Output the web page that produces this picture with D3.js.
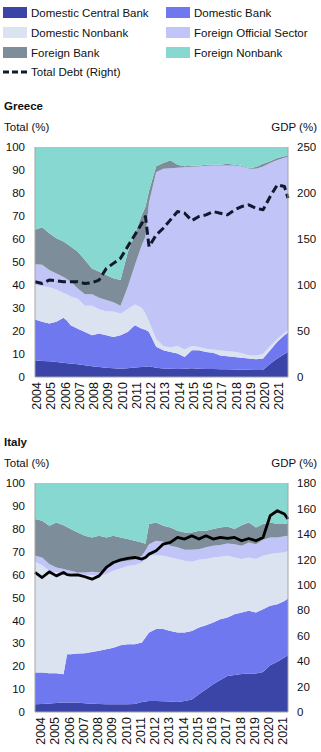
<!DOCTYPE html>
<html>
<head>
<meta charset="utf-8">
<script src="https://cdn.jsdelivr.net/npm/d3@7"></script>
<style>
  body { margin: 0; background: #fff; }
  text { font-family: "Liberation Sans", Arial, sans-serif; fill: #111; }
</style>
</head>
<body>
<svg id="chart" width="321" height="752"></svg>
<script>
// half-year observations (extra points where the series jump)
var dates = [2004, 2004.5, 2005, 2005.5, 2006, 2006.25, 2006.5, 2007, 2007.5, 2008,
    2008.5, 2009, 2009.5, 2010, 2010.5, 2011, 2011.5, 2011.75, 2012, 2012.5,
    2013, 2013.5, 2014, 2014.5, 2015, 2015.5, 2016, 2016.5, 2017, 2017.5,
    2018, 2018.5, 2019, 2019.5, 2020, 2020.5, 2021, 2021.5, 2021.75];
var years = [2004, 2005, 2006, 2007, 2008, 2009, 2010, 2011, 2012, 2013,
    2014, 2015, 2016, 2017, 2018, 2019, 2020, 2021];

var seriesNames = ["Domestic Central Bank", "Domestic Bank", "Domestic Nonbank",
    "Foreign Official Sector", "Foreign Bank", "Foreign Nonbank"];
var seriesColors = ["#3b44a7", "#7078ef", "#dbe3f1", "#c1c4f6", "#7d8e9a", "#87d8d0"];

// Greece, share of total (%)
var greeceCB = [7.3, 7.0, 6.8, 6.5, 6.2, 6.0, 5.9, 5.5, 5.1, 4.7, 4.3, 4.0, 3.8, 3.6, 3.8, 4.1, 4.3, 4.5, 4.7, 4.0,
    3.7, 3.6, 3.5, 3.6, 3.8, 3.6, 3.5, 3.5, 3.4, 3.4, 3.3, 3.2, 3.1, 3.0, 3.0, 5.8, 8.0, 10.0, 11.0];
var greeceDB = [17.7, 17.0, 16.5, 17.5, 19.6, 18.5, 16.6, 15.5, 14.5, 13.5, 14.6, 14.2, 13.6, 14.6, 15.8, 18.4, 16.7, 16.0, 14.9, 9.1,
    7.9, 7.3, 6.7, 5.1, 7.8, 8.0, 7.4, 7.0, 6.0, 5.6, 5.4, 5.2, 4.9, 4.7, 5.0, 5.8, 7.3, 8.2, 8.3];
var greeceDNB = [15.0, 15.5, 15.7, 14.0, 10.7, 11.5, 12.5, 13.0, 11.4, 12.8, 10.6, 10.3, 11.1, 9.3, 9.9, 9.0, 9.0, 7.0, 4.4, 3.4,
    1.9, 1.9, 3.3, 3.3, 1.9, 1.4, 1.4, 1.5, 2.1, 2.2, 2.3, 1.9, 1.5, 1.5, 2.0, 1.9, 1.2, 1.0, 1.2];
var greeceFOS = [9.0, 9.3, 7.5, 7.0, 7.0, 6.5, 6.5, 4.5, 5.0, 5.0, 5.0, 5.0, 4.0, 3.5, 9.5, 17.0, 27.5, 33.5, 52.0, 72.5,
    77.0, 78.0, 77.5, 79.2, 77.9, 78.5, 79.5, 80.0, 80.5, 80.8, 81.0, 81.2, 81.0, 81.3, 81.5, 79.5, 77.8, 76.1, 75.1];
var greeceFB = [15.0, 16.3, 16.0, 15.3, 15.4, 15.3, 15.2, 16.0, 14.9, 11.2, 11.3, 10.8, 10.4, 11.2, 15.0, 13.5, 13.0, 13.0, 5.0, 2.6,
    2.5, 3.4, 1.3, 0.4, 0.5, 0.4, 0.5, 0.3, 0.3, 0.7, 0.3, 0.4, 0.3, 0.8, 1.2, 0.8, 0.9, 0.7, 0.6];
var greeceFNB = [36.0, 34.9, 37.5, 39.7, 41.1, 42.2, 43.3, 45.5, 49.1, 52.8, 54.2, 55.7, 57.1, 57.8, 46.0, 38.0, 29.5, 26.0, 19.0, 8.4,
    7.0, 5.8, 7.7, 8.4, 8.1, 8.1, 7.7, 7.7, 7.7, 7.3, 7.7, 8.1, 9.2, 8.7, 7.3, 6.2, 4.8, 4.0, 3.8];
// Greece total debt, % of GDP (right axis)
var greeceDebt = [103.6, 101.7, 105.4, 104.7, 103.6, 103.6, 103.6, 103.6, 101.7, 102.5, 105.4, 118, 123.5, 129, 141.7, 154.4, 167, 174.4, 141.7, 154.4,
    161.7, 170.8, 179.9, 178, 170, 174.4, 176.2, 179.9, 178, 176.2, 181.7, 185.3, 187.1, 183.5, 181.7, 196.2, 209, 207, 194.4];

// Italy, share of total (%)
var italyCB = [3.4, 3.5, 3.7, 3.9, 4.1, 4.1, 4.1, 4.0, 3.8, 3.6, 3.5, 3.4, 3.4, 3.4, 3.4, 3.5, 4.4, 4.6, 4.8, 4.8,
    4.7, 4.6, 4.4, 4.8, 5.5, 7.7, 9.9, 12.1, 14.0, 15.7, 16.2, 16.6, 16.8, 16.8, 17.5, 20.4, 21.9, 23.8, 24.8];
var italyDB = [13.8, 13.7, 13.2, 13.0, 12.4, 21.1, 21.1, 21.5, 21.9, 22.6, 23.2, 24.0, 24.7, 25.8, 26.2, 26.1, 25.9, 27.9, 29.9, 31.4,
    31.5, 30.8, 30.3, 29.9, 29.9, 29.2, 28.0, 27.0, 26.5, 25.6, 26.5, 26.8, 27.4, 26.6, 27.4, 26.0, 25.2, 24.7, 24.8];
var italyDNB = [48.4, 46.9, 44.8, 44.0, 44.1, 35.0, 34.6, 34.0, 33.8, 33.6, 32.8, 32.8, 33.6, 33.5, 34.2, 34.5, 35.0, 34.0, 33.5, 32.3,
    32.0, 32.1, 32.1, 31.3, 30.2, 29.6, 28.9, 28.4, 27.3, 26.9, 24.8, 23.4, 23.3, 23.4, 23.3, 22.6, 22.3, 21.2, 20.8];
var italyFOS = [2.6, 3.4, 2.9, 2.2, 1.8, 1.8, 1.9, 1.4, 1.4, 1.4, 1.4, 2.2, 3.3, 2.9, 2.2, 2.4, 2.9, 4.0, 5.1, 6.3,
    6.1, 5.1, 5.1, 4.8, 5.2, 4.6, 5.1, 5.1, 5.1, 5.4, 5.8, 5.8, 6.5, 6.5, 7.0, 7.2, 6.8, 7.0, 6.6];
var italyFB = [16.1, 16.0, 16.7, 19.7, 19.2, 18.8, 18.2, 17.5, 16.1, 15.0, 16.1, 13.8, 12.0, 10.6, 9.5, 8.3, 5.8, 3.0, 8.8, 8.0,
    7.0, 8.0, 7.3, 7.6, 7.6, 8.1, 7.3, 7.3, 7.7, 7.4, 6.6, 9.0, 8.8, 7.3, 6.9, 6.6, 5.9, 5.4, 5.5];
var italyFNB = [15.7, 16.5, 18.7, 17.2, 18.4, 19.2, 20.1, 21.6, 23.0, 23.8, 23.0, 23.8, 23.0, 23.8, 24.5, 25.2, 26.0, 26.5, 17.9, 17.2,
    18.7, 19.4, 20.8, 21.6, 21.6, 20.8, 20.8, 20.1, 19.4, 19.0, 20.1, 18.4, 17.2, 19.4, 17.9, 17.2, 17.9, 17.9, 17.5];
// Italy total debt, % of GDP (right axis)
var italyDebt = [109.7, 105.7, 110.2, 107.0, 109.7, 108.0, 107.6, 107.8, 106.3, 104.4, 107.0, 113.6, 117.5, 119.6, 120.7, 121.5, 120.2, 121.5, 124.1, 126.7,
    132.0, 133.3, 137.2, 135.9, 138.5, 135.9, 138.5, 135.9, 137.2, 136.4, 137.2, 134.6, 136.4, 134.6, 137.2, 154.3, 158.2, 155.6, 151.7];

var svg = d3.select("#chart");

// legend
var legend = svg.append("g").attr("class", "legend");
seriesNames.forEach(function (name, i) {
    var col = i % 2, row = Math.floor(i / 2);
    var g = legend.append("g")
        .attr("transform", "translate(" + (3 + col * 163) + "," + (7 + row * 20) + ")");
    g.append("rect").attr("width", 24).attr("height", 11).attr("fill", seriesColors[i]);
    g.append("text").attr("x", 28).attr("y", 10).attr("font-size", 11.5).text(name);
});
var lg = legend.append("g").attr("transform", "translate(3,72)");
lg.append("line").attr("x1", 0).attr("x2", 24)
    .attr("stroke", "#101a2c").attr("stroke-width", 3).attr("stroke-dasharray", "6,3");
lg.append("text").attr("x", 28).attr("y", 4).attr("font-size", 11.5).text("Total Debt (Right)");

var x = d3.scaleLinear().domain([2004, 2021.75]).range([35, 288]);

function drawPanel(p) {
    var y = d3.scaleLinear().domain([0, 100]).range([p.bottom, p.top]);
    var y2 = d3.scaleLinear().domain([0, p.rightMax]).range([p.bottom, p.top]);

    var rows = dates.map(function (t, i) {
        var r = { t: t };
        seriesNames.forEach(function (k, j) { r[k] = p.series[j][i]; });
        return r;
    });
    var stacked = d3.stack().keys(seriesNames)(rows);
    var area = d3.area()
        .x(function (d) { return x(d.data.t); })
        .y0(function (d) { return y(d[0]); })
        .y1(function (d) { return y(Math.min(100, d[1])); });

    var g = svg.append("g");
    g.selectAll("path.layer").data(stacked).enter()
        .append("path")
        .attr("class", "layer")
        .attr("d", area)
        .attr("fill", function (d, i) { return seriesColors[i]; });

    var line = d3.line()
        .x(function (d, i) { return x(dates[i]); })
        .y(function (d) { return y2(d); });
    g.append("path")
        .attr("d", line(p.debt))
        .attr("fill", "none")
        .attr("stroke", p.lineColor)
        .attr("stroke-width", p.lineWidth)
        .attr("stroke-linejoin", "round")
        .attr("stroke-dasharray", p.dash);

    // frame lines
    g.append("path")
        .attr("d", "M35," + p.top + "V" + p.bottom + "H288V" + p.top)
        .attr("fill", "none").attr("stroke", "#a4a4a4").attr("stroke-width", 1);

    var left = g.append("g").attr("transform", "translate(35,0)")
        .call(d3.axisLeft(y).tickValues(d3.range(0, 101, 10)).tickSize(0).tickPadding(10));
    var right = g.append("g").attr("transform", "translate(288,0)")
        .call(d3.axisRight(y2).tickValues(d3.range(0, p.rightMax + 1, p.rightStep)).tickSize(0).tickPadding(9));
    var bottom = g.append("g").attr("transform", "translate(0," + p.bottom + ")")
        .call(d3.axisBottom(x).tickValues(years).tickFormat(d3.format("d")).tickSize(0));
    [left, right, bottom].forEach(function (a) {
        a.select(".domain").remove();
        a.selectAll("text").attr("font-size", 11.5).attr("fill", "#111")
            .style("font-family", "'Liberation Sans', Arial, sans-serif");
    });
    bottom.selectAll("text")
        .attr("font-size", 12.5)
        .attr("transform", "rotate(-90)")
        .attr("text-anchor", "end")
        .attr("x", -5)
        .attr("y", p.labelShift)
        .attr("dy", "0.36em");

    g.append("text").attr("x", 4).attr("y", p.top - 37)
        .attr("font-size", 11.5).attr("font-weight", "bold").text(p.title);
    g.append("text").attr("x", 4).attr("y", p.top - 16)
        .attr("font-size", 11.5).text("Total (%)");
    g.append("text").attr("x", 317).attr("y", p.top - 16).attr("text-anchor", "end")
        .attr("font-size", 11.5).text("GDP (%)");
}

drawPanel({
    title: "Greece", top: 147, bottom: 377, rightMax: 250, rightStep: 50,
    series: [greeceCB, greeceDB, greeceDNB, greeceFOS, greeceFB, greeceFNB],
    debt: greeceDebt, lineColor: "#101a2c", lineWidth: 3, dash: "8,4", labelShift: 1
});
drawPanel({
    title: "Italy", top: 483, bottom: 712, rightMax: 180, rightStep: 20,
    series: [italyCB, italyDB, italyDNB, italyFOS, italyFB, italyFNB],
    debt: italyDebt, lineColor: "#000", lineWidth: 2.8, dash: null, labelShift: 5
});
</script>
</body>
</html>
